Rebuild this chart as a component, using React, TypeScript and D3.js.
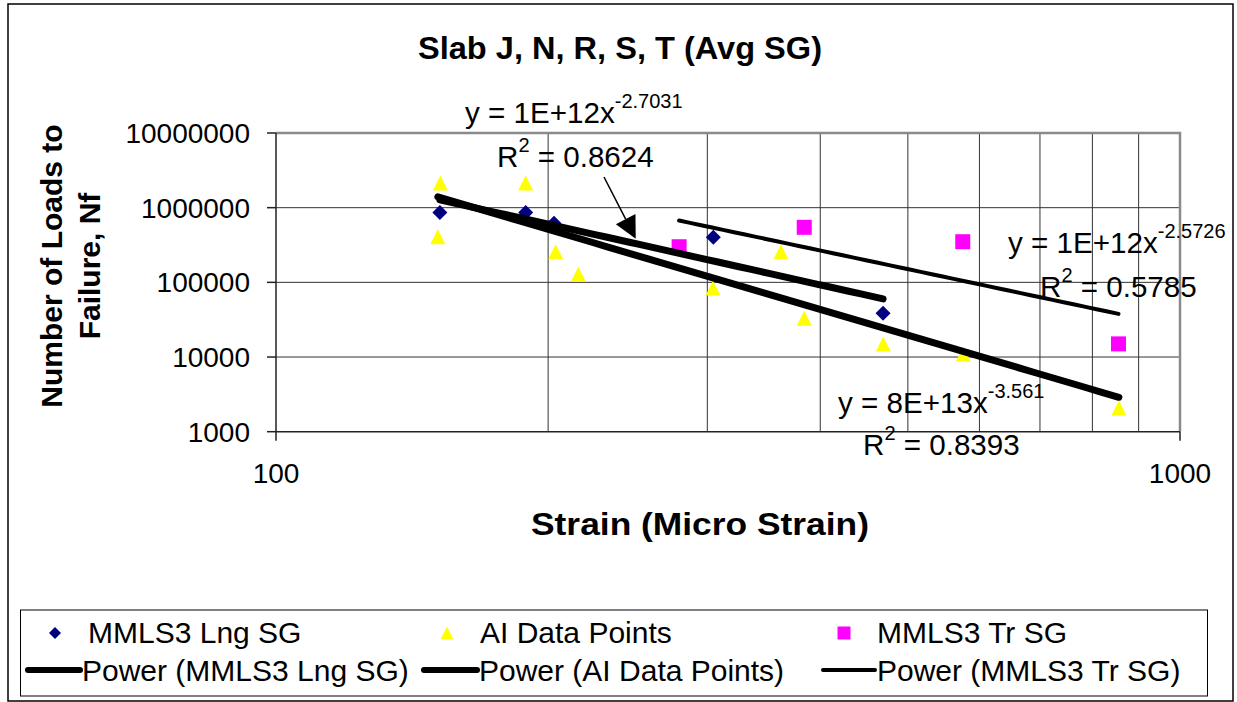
import React from "react";
import * as d3 from "d3";

// Fatigue data: strain (micro strain) vs number of loads to failure
const lngStrain = [151.8, 188.9, 203, 304.6, 469.4];
const lngLoads = [860000, 860000, 618000, 401000, 38500];

const aiStrain = [152, 151, 188.9, 203.9, 216, 304.4, 361.9, 384, 469.7, 575.8, 855.8];
const aiLoads = [2140000, 408000, 2140000, 257000, 129000, 84000, 257000, 33000, 15000, 11000, 2080];

const trStrain = [279.2, 384, 575, 855];
const trLoads = [300000, 546000, 350000, 15000];

// Power trendlines y = a * x^b with R²
const lngFit = { a: 1.0e12, b: -2.7031, r2: 0.8624 };
const aiFit = { a: 8.0e13, b: -3.561, r2: 0.8393 };
const trFit = { a: 1.32e12, b: -2.5726, r2: 0.5785 };

const yTicks = [1000, 10000, 100000, 1000000, 10000000];
const xTicks = [100, 1000];
const xMinor = [200, 300, 400, 500, 600, 700, 800, 900];

const legendNames = ["MMLS3 Lng SG", "AI Data Points", "MMLS3 Tr SG"];

const FONT = "'Liberation Sans', Arial, sans-serif";
const NAVY = "#000080";
const YELLOW = "#FFFF00";
const MAGENTA = "#FF00FF";

const x = d3.scaleLog().domain([100, 1000]).range([276, 1180]);
const y = d3.scaleLog().domain([1000, 10000000]).range([431.7, 133]);

const fitLine = (f: { a: number; b: number }, xs: number[]) => {
  const lo = d3.min(xs) as number;
  const hi = d3.max(xs) as number;
  const pts: [number, number][] = d3.range(0, 41).map((i) => {
    const xv = lo * Math.pow(hi / lo, i / 40);
    return [xv, f.a * Math.pow(xv, f.b)];
  });
  return d3.line<[number, number]>().x((d) => x(d[0])).y((d) => y(d[1]))(pts) as string;
};

const coefLabel = (a: number) => a.toExponential(0).toUpperCase();

const diamond = (cx: number, cy: number, r = 7.5) =>
  `M${cx},${cy - r}L${cx + r},${cy}L${cx},${cy + r}L${cx - r},${cy}Z`;
const triangle = (cx: number, cy: number, r = 7.5) =>
  `M${cx},${cy - r}L${cx + r},${cy + r}L${cx - r},${cy + r}Z`;
const square = (cx: number, cy: number, r = 7.5) =>
  `M${cx - r},${cy - r}h${2 * r}v${2 * r}h${-2 * r}Z`;

function Equation({ tx, ty, fit, rx, ry }: { tx: number; ty: number; fit: { a: number; b: number; r2: number }; rx: number; ry: number }) {
  return (
    <g fontFamily={FONT} fill="#000">
      <text x={tx} y={ty} fontSize={29.6}>
        {`y = ${coefLabel(fit.a)}x`}
        <tspan fontSize={20} dy={-15}>{String(fit.b)}</tspan>
      </text>
      <text x={rx} y={ry} fontSize={29.6}>
        R<tspan fontSize={20} dy={-15}>2</tspan>
        <tspan dy={15}>{` = ${fit.r2.toFixed(4)}`}</tspan>
      </text>
    </g>
  );
}

export default function App() {
  // arrow from the R² label to the Lng trendline
  const tipX = 250;
  const tip: [number, number] = [x(tipX), y(lngFit.a * Math.pow(tipX, lngFit.b)) - 5];
  const tail: [number, number] = [604, 177];
  const ang = Math.atan2(tip[1] - tail[1], tip[0] - tail[0]);
  const hl = 22;
  const hw = 11;
  const bx = tip[0] - hl * Math.cos(ang);
  const by = tip[1] - hl * Math.sin(ang);
  const head = `M${tip[0]},${tip[1]}L${bx + hw * Math.sin(ang)},${by - hw * Math.cos(ang)}L${bx - hw * Math.sin(ang)},${by + hw * Math.cos(ang)}Z`;

  const legendCols = [55, 447, 844];

  return (
    <svg width={1237} height={702} style={{ position: "absolute", left: 0, top: 0, background: "#fff" }}>
      <rect x={8} y={4} width={1225} height={697} fill="#fff" stroke="#000" strokeWidth={1.5} />

      {/* title */}
      <text x={620} y={59} textAnchor="middle" fontFamily={FONT} fontWeight="bold" fontSize={31}
        textLength={404} lengthAdjust="spacingAndGlyphs">
        Slab J, N, R, S, T (Avg SG)
      </text>

      {/* grid */}
      {xMinor.map((v) => (
        <line key={"gx" + v} x1={x(v)} x2={x(v)} y1={y(1e7)} y2={y(1000)} stroke="#333" strokeWidth={1} />
      ))}
      {yTicks.slice(1, -1).map((v) => (
        <line key={"gy" + v} x1={x(100)} x2={x(1000)} y1={y(v)} y2={y(v)} stroke="#333" strokeWidth={1} />
      ))}
      {/* plot frame */}
      <path d={`M${x(100)},${y(1e7)}H${x(1000)}V${y(1000)}`} fill="none" stroke="#8a8a8a" strokeWidth={2.5} />
      <line x1={x(100)} x2={x(1000)} y1={y(1000)} y2={y(1000)} stroke="#222" strokeWidth={1.5} />
      <line x1={x(100)} x2={x(100)} y1={y(1e7)} y2={y(1000)} stroke="#222" strokeWidth={1.5} />

      {/* axis ticks and labels */}
      {yTicks.map((v) => (
        <g key={"yt" + v}>
          <line x1={x(100) - 9} x2={x(100)} y1={y(v)} y2={y(v)} stroke="#222" strokeWidth={1.5} />
          <text x={250} y={y(v) + 10} textAnchor="end" fontFamily={FONT} fontSize={28}>
            {String(v)}
          </text>
        </g>
      ))}
      {xTicks.map((v) => (
        <g key={"xt" + v}>
          <line x1={x(v)} x2={x(v)} y1={y(1000)} y2={y(1000) + 9} stroke="#222" strokeWidth={1.5} />
          <text x={x(v)} y={483} textAnchor="middle" fontFamily={FONT} fontSize={28}>
            {String(v)}
          </text>
        </g>
      ))}

      {/* axis titles */}
      <text x={700} y={535} textAnchor="middle" fontFamily={FONT} fontWeight="bold" fontSize={31}
        textLength={338} lengthAdjust="spacingAndGlyphs">
        Strain (Micro Strain)
      </text>
      <g transform="translate(62,266) rotate(-90)">
        <text x={0} y={0} textAnchor="middle" fontFamily={FONT} fontWeight="bold" fontSize={30}>
          Number of Loads to
        </text>
        <text x={0} y={38} textAnchor="middle" fontFamily={FONT} fontWeight="bold" fontSize={30}>
          Failure, Nf
        </text>
      </g>

      {/* markers */}
      {lngStrain.map((v, i) => (
        <path key={"l" + i} d={diamond(x(v), y(lngLoads[i]))} fill={NAVY} />
      ))}
      {aiStrain.map((v, i) => (
        <path key={"a" + i} d={triangle(x(v), y(aiLoads[i]))} fill={YELLOW} />
      ))}
      {trStrain.map((v, i) => (
        <path key={"t" + i} d={square(x(v), y(trLoads[i]))} fill={MAGENTA} />
      ))}

      {/* trendlines */}
      <path d={fitLine(aiFit, aiStrain)} fill="none" stroke="#000" strokeWidth={7} strokeLinecap="round" />
      <path d={fitLine(lngFit, lngStrain)} fill="none" stroke="#000" strokeWidth={7} strokeLinecap="round" />
      <path d={fitLine(trFit, trStrain)} fill="none" stroke="#000" strokeWidth={4} strokeLinecap="round" />

      {/* equations */}
      <Equation tx={465} ty={123} fit={lngFit} rx={497} ry={167} />
      <Equation tx={1008} ty={253} fit={trFit} rx={1040} ry={297} />
      <Equation tx={838} ty={413} fit={aiFit} rx={863} ry={455} />

      {/* arrow */}
      <line x1={tail[0]} y1={tail[1]} x2={bx} y2={by} stroke="#000" strokeWidth={1.5} />
      <path d={head} fill="#000" />

      {/* legend */}
      <rect x={20.5} y={610} width={1187} height={86} fill="#fff" stroke="#000" strokeWidth={1} />
      <path d={diamond(legendCols[0], 633, 6)} fill={NAVY} />
      <path d={triangle(legendCols[1], 633, 6.5)} fill={YELLOW} />
      <path d={square(legendCols[2], 633, 6.5)} fill={MAGENTA} />
      {legendNames.map((n, i) => (
        <text key={"ln" + i} x={legendCols[i] + 33} y={643} fontFamily={FONT} fontSize={30}>
          {n}
        </text>
      ))}
      {[
        { x0: 28, x1: 80, w: 6 },
        { x0: 424, x1: 477, w: 6 },
        { x0: 823, x1: 875, w: 4 },
      ].map((s, i) => (
        <g key={"lp" + i}>
          <line x1={s.x0} x2={s.x1} y1={670} y2={670} stroke="#000" strokeWidth={s.w} strokeLinecap="round" />
          <text x={s.x1 + 2} y={681} fontFamily={FONT} fontSize={30}>
            {`Power (${legendNames[i]})`}
          </text>
        </g>
      ))}
    </svg>
  );
}
